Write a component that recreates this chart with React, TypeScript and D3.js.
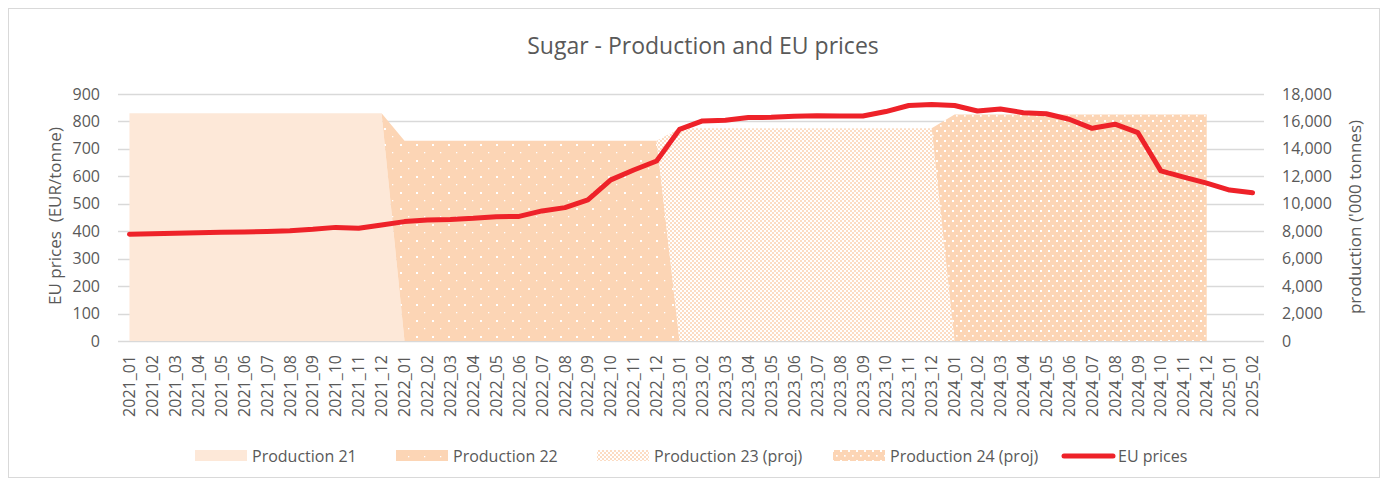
import React, { useEffect, useRef } from "react";
import * as d3 from "d3";

// categories (x axis)
const months = [
  "2021_01", "2021_02", "2021_03", "2021_04", "2021_05", "2021_06", "2021_07", "2021_08", "2021_09", "2021_10", "2021_11", "2021_12",
  "2022_01", "2022_02", "2022_03", "2022_04", "2022_05", "2022_06", "2022_07", "2022_08", "2022_09", "2022_10", "2022_11", "2022_12",
  "2023_01", "2023_02", "2023_03", "2023_04", "2023_05", "2023_06", "2023_07", "2023_08", "2023_09", "2023_10", "2023_11", "2023_12",
  "2024_01", "2024_02", "2024_03", "2024_04", "2024_05", "2024_06", "2024_07", "2024_08", "2024_09", "2024_10", "2024_11", "2024_12",
  "2025_01", "2025_02",
];

// EU prices (EUR/tonne), left axis
const euPrices = [
  389, 391, 393, 394, 396, 397, 399, 402, 407, 414, 411, 423,
  435, 441, 443, 447, 453, 454, 474, 486, 514, 587, 623, 656,
  771, 802, 804, 814, 815, 819, 821, 820, 820, 836, 858, 862,
  858, 838, 845, 832, 828, 808, 775, 790, 759, 620, 597, 575,
  550, 540,
];

// production ('000 tonnes), right axis, stacked areas
const production21 = [
  16600, 16600, 16600, 16600, 16600, 16600, 16600, 16600, 16600, 16600, 16600, 16600,
  0, 0, 0, 0, 0, 0, 0, 0, 0, 0, 0, 0,
  0, 0, 0, 0, 0, 0, 0, 0, 0, 0, 0, 0,
  0, 0, 0, 0, 0, 0, 0, 0, 0, 0, 0, 0,
  null, null,
];
const production22 = [
  0, 0, 0, 0, 0, 0, 0, 0, 0, 0, 0, 0,
  14600, 14600, 14600, 14600, 14600, 14600, 14600, 14600, 14600, 14600, 14600, 14600,
  0, 0, 0, 0, 0, 0, 0, 0, 0, 0, 0, 0,
  0, 0, 0, 0, 0, 0, 0, 0, 0, 0, 0, 0,
  null, null,
];
const production23 = [
  0, 0, 0, 0, 0, 0, 0, 0, 0, 0, 0, 0,
  0, 0, 0, 0, 0, 0, 0, 0, 0, 0, 0, 0,
  15500, 15500, 15500, 15500, 15500, 15500, 15500, 15500, 15500, 15500, 15500, 15500,
  0, 0, 0, 0, 0, 0, 0, 0, 0, 0, 0, 0,
  null, null,
];
const production24 = [
  0, 0, 0, 0, 0, 0, 0, 0, 0, 0, 0, 0,
  0, 0, 0, 0, 0, 0, 0, 0, 0, 0, 0, 0,
  0, 0, 0, 0, 0, 0, 0, 0, 0, 0, 0, 0,
  16500, 16500, 16500, 16500, 16500, 16500, 16500, 16500, 16500, 16500, 16500, 16500,
  null, null,
];

const seriesKeys = ["p21", "p22", "p23", "p24"];
const seriesNames = ["Production 21", "Production 22", "Production 23 (proj)", "Production 24 (proj)"];
const priceTicks = [0, 100, 200, 300, 400, 500, 600, 700, 800, 900];
const productionTicks = [0, 2000, 4000, 6000, 8000, 10000, 12000, 14000, 16000, 18000];

const FONT = "'Open Sans', 'Liberation Sans', sans-serif";
const GREY = "#595959";
const RED = "#ee2229";

export default function App() {
  const ref = useRef<SVGSVGElement>(null);

  useEffect(() => {
    const svg = d3.select(ref.current);
    svg.selectAll("*").remove();

    // patterns
    const defs = svg.append("defs");
    const pFill = (id: string, w: number, h: number) =>
      defs.append("pattern").attr("id", id).attr("patternUnits", "userSpaceOnUse").attr("width", w).attr("height", h);

    const p21 = pFill("pat21", 4, 4);
    p21.append("rect").attr("width", 4).attr("height", 4).attr("fill", "#fde8d8");

    const p22 = pFill("pat22", 16, 16);
    p22.append("rect").attr("width", 16).attr("height", 16).attr("fill", "#fcd5b5");
    p22.append("rect").attr("x", 0).attr("y", 0).attr("width", 2).attr("height", 2).attr("fill", "#fff");
    p22.append("rect").attr("x", 8).attr("y", 8).attr("width", 1.3).attr("height", 1.3).attr("fill", "#fff");

    const p23 = pFill("pat23", 4, 4);
    p23.append("rect").attr("width", 4).attr("height", 4).attr("fill", "#fff");
    p23.append("rect").attr("x", 0).attr("y", 0).attr("width", 2).attr("height", 2).attr("fill", "#fcdcc3");
    p23.append("rect").attr("x", 2).attr("y", 2).attr("width", 2).attr("height", 2).attr("fill", "#fcdcc3");

    const p24 = pFill("pat24", 8, 10);
    p24.append("rect").attr("width", 8).attr("height", 10).attr("fill", "#fcd5b5");
    p24.append("rect").attr("x", 0).attr("y", 0).attr("width", 2).attr("height", 2).attr("fill", "#fff");
    p24.append("rect").attr("x", 4).attr("y", 5).attr("width", 1.7).attr("height", 1.7).attr("fill", "#fff");

    const fills = ["url(#pat21)", "url(#pat22)", "url(#pat23)", "url(#pat24)"];

    // page coordinates
    const g = svg.append("g").attr("transform", "translate(-8,-8)").style("font-family", FONT);

    g.append("rect")
      .attr("x", 8.5).attr("y", 8.5).attr("width", 1371).attr("height", 469)
      .attr("fill", "#fff").attr("stroke", "#d9d9d9");

    const x = d3.scalePoint<string>().domain(months).range([118, 1264]).padding(0.5);
    const yL = d3.scaleLinear().domain([0, 900]).range([341, 94]);
    const yR = d3.scaleLinear().domain([0, 18000]).range([341, 94]);

    // gridlines
    g.append("g").selectAll("line").data(priceTicks).join("line")
      .attr("x1", 118).attr("x2", 1264)
      .attr("y1", d => Math.round(yL(d)) + 0.5).attr("y2", d => Math.round(yL(d)) + 0.5)
      .attr("stroke", "#d9d9d9").attr("stroke-width", 1.3);

    // stacked production areas
    const table = months
      .map((m, i) => ({ month: m, p21: production21[i], p22: production22[i], p23: production23[i], p24: production24[i] }))
      .filter(d => d.p21 !== null);
    const stack = d3.stack<any>().keys(seriesKeys)(table);
    const area = d3.area<any>()
      .x(d => x(d.data.month)!)
      .y0(d => yR(d[0]))
      .y1(d => yR(d[1]));
    g.append("g").selectAll("path").data(stack).join("path")
      .attr("d", d => area(d as any))
      .attr("fill", (d, i) => fills[i]);

    // price line
    const line = d3.line<number>().x((d, i) => x(months[i])!).y(d => yL(d));
    g.append("path").datum(euPrices)
      .attr("d", line)
      .attr("fill", "none").attr("stroke", RED).attr("stroke-width", 5)
      .attr("stroke-linejoin", "round").attr("stroke-linecap", "round");

    // left axis labels
    g.append("g").selectAll("text").data(priceTicks).join("text")
      .attr("x", 100).attr("y", d => yL(d)).attr("dy", "0.35em")
      .attr("text-anchor", "end").attr("fill", GREY).attr("font-size", 16)
      .text(d => d3.format(",")(d));

    // right axis labels
    g.append("g").selectAll("text").data(productionTicks).join("text")
      .attr("x", 1282).attr("y", d => yR(d)).attr("dy", "0.35em")
      .attr("text-anchor", "start").attr("fill", GREY).attr("font-size", 16)
      .text(d => d3.format(",")(d));

    // x axis labels
    g.append("g").selectAll("text").data(months).join("text")
      .attr("transform", d => `translate(${x(d)},355) rotate(-90)`)
      .attr("dy", "0.35em")
      .attr("text-anchor", "end").attr("fill", GREY).attr("font-size", 16)
      .text(d => d);

    // axis titles
    g.append("text")
      .attr("transform", "translate(55,216) rotate(-90)")
      .attr("dy", "0.35em").attr("text-anchor", "middle")
      .attr("fill", GREY).attr("font-size", 17)
      .style("white-space", "pre")
      .text("EU prices  (EUR/tonne)");
    g.append("text")
      .attr("transform", "translate(1355,217) rotate(-90)")
      .attr("dy", "0.35em").attr("text-anchor", "middle")
      .attr("fill", GREY).attr("font-size", 17)
      .text("production ('000 tonnes)");

    // title
    g.append("text")
      .attr("x", 703).attr("y", 46).attr("dy", "0.35em")
      .attr("text-anchor", "middle").attr("fill", GREY).attr("font-size", 23)
      .text("Sugar - Production and EU prices");

    // legend
    const legendX = [195, 396, 597, 833];
    const lg = g.append("g");
    seriesNames.forEach((name, i) => {
      lg.append("rect").attr("x", legendX[i]).attr("y", 450).attr("width", 52).attr("height", 11).attr("fill", fills[i]);
      lg.append("text").attr("x", legendX[i] + 57).attr("y", 456).attr("dy", "0.35em")
        .attr("fill", GREY).attr("font-size", 16).text(name);
    });
    lg.append("line").attr("x1", 1064).attr("x2", 1113).attr("y1", 456).attr("y2", 456)
      .attr("stroke", RED).attr("stroke-width", 5).attr("stroke-linecap", "round");
    lg.append("text").attr("x", 1118).attr("y", 456).attr("dy", "0.35em")
      .attr("fill", GREY).attr("font-size", 16).text("EU prices");
  }, []);

  return <svg ref={ref} width={1372} height={470} style={{ display: "block" }} />;
}
